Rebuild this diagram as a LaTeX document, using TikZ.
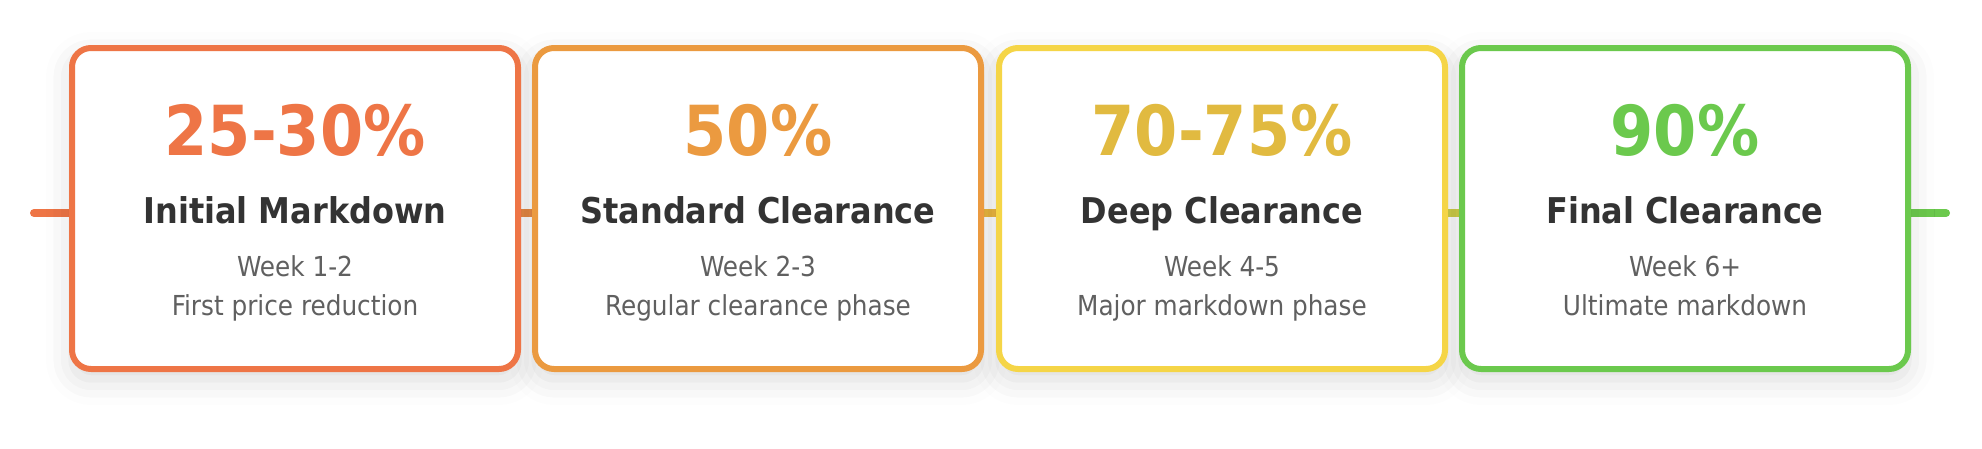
\documentclass[tikz,border=0pt]{standalone}
\usepackage{fontspec}
\setmainfont{DejaVu Sans Condensed}
\usetikzlibrary{shadows.blur}
\pgfdeclarelayer{background}
\pgfsetlayers{background,main}
\definecolor{cOne}{HTML}{EE7546}
\definecolor{cTwo}{HTML}{EB9A40}
\definecolor{cThree}{HTML}{F5D547}
\definecolor{cThreeText}{HTML}{E1BA40}
\definecolor{cFour}{HTML}{6BC94D}
\definecolor{cOneTwo}{HTML}{E88A44}
\definecolor{cTwoThree}{HTML}{EDB840}
\definecolor{cThreeFour}{HTML}{D0D048}
\definecolor{titleGray}{HTML}{333333}
\definecolor{subGray}{HTML}{606060}
\begin{document}
\begin{tikzpicture}[x=1pt,y=-1pt,
  cardbase/.style={rounded corners=19pt, minimum width=446pt, minimum height=321pt, inner sep=0pt},
  cardshadow/.style={cardbase, fill=white, line width=6pt,
    blur shadow={shadow xshift=0pt, shadow yshift=-10pt, shadow blur radius=26pt, shadow opacity=15}},
  card/.style={cardbase, draw=#1, line width=6pt, fill=white},
  bigpct/.style={text=#1, font=\fontsize{69}{69}\selectfont\bfseries, anchor=base, inner sep=0pt},
  ttl/.style={text=titleGray, font=\fontsize{35.5}{35.5}\selectfont\bfseries, anchor=base, inner sep=0pt},
  sub/.style={text=subGray, font=\fontsize{27.5}{27.5}\selectfont, anchor=base, inner sep=0pt},
  conn/.style={draw=#1, line width=8pt}
]
\useasboundingbox (0,0) rectangle (1982,448);
\coordinate (lineY) at (0,213);
\coordinate (startL) at (34,213);
\coordinate (endR) at (1946,213);

\node[cardshadow] (s1) at (295,208.5) {};
\node[cardshadow] (s2) at (758,208.5) {};
\node[cardshadow] (s3) at (1222,208.5) {};
\node[cardshadow] (s4) at (1685,208.5) {};

\node[card=cOne]   (b1) at (295,208.5) {};
\node[card=cTwo]   (b2) at (758,208.5) {};
\node[card=cThree] (b3) at (1222,208.5) {};
\node[card=cFour]  (b4) at (1685,208.5) {};

\node[bigpct=cOne]       (p1) at (295,155) {25-30\%};
\node[bigpct=cTwo]       (p2) at (758,155) {50\%};
\node[bigpct=cThreeText] (p3) at (1222,155) {70-75\%};
\node[bigpct=cFour]      (p4) at (1685,155) {90\%};

\node[ttl] (t1) at (295,223) {Initial Markdown};
\node[ttl] (t2) at (758,223) {Standard Clearance};
\node[ttl] (t3) at (1222,223) {Deep Clearance};
\node[ttl] (t4) at (1685,223) {Final Clearance};

\node[sub] (w1) at (295,276) {Week 1-2};
\node[sub] (w2) at (758,276) {Week 2-3};
\node[sub] (w3) at (1222,276) {Week 4-5};
\node[sub] (w4) at (1685,276) {Week 6+};

\node[sub] (d1) at (295,315) {First price reduction};
\node[sub] (d2) at (758,315) {Regular clearance phase};
\node[sub] (d3) at (1222,315) {Major markdown phase};
\node[sub] (d4) at (1685,315) {Ultimate markdown};

\begin{pgfonlayer}{background}
\draw[conn=cOne, line cap=round] (startL) -- (b1.west |- lineY);
\draw[conn=cOneTwo] (b1.east |- lineY) -- (b2.west |- lineY);
\draw[conn=cTwoThree] (b2.east |- lineY) -- (b3.west |- lineY);
\draw[conn=cThreeFour] (b3.east |- lineY) -- (b4.west |- lineY);
\draw[conn=cFour, line cap=round] (b4.east |- lineY) -- (endR);
\end{pgfonlayer}
\end{tikzpicture}
\end{document}
